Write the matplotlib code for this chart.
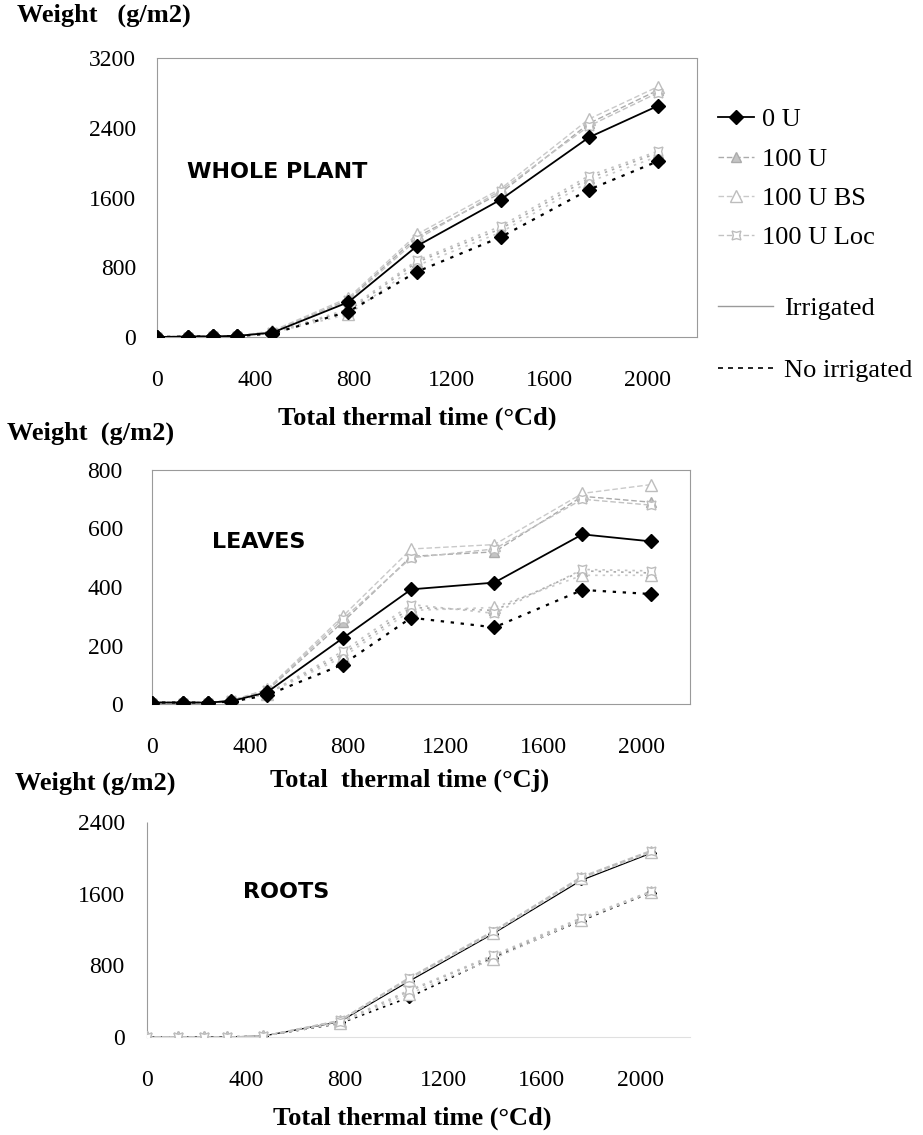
import matplotlib
matplotlib.use("Agg")
import matplotlib.pyplot as plt
from matplotlib.lines import Line2D

# ---------------- data ----------------
thermal_time = [0, 125, 230, 325, 470, 780, 1060, 1400, 1760, 2040]
treatments = ["0 U", "100 U", "100 U BS", "100 U Loc"]

# whole plant (g/m2)
whole_irr = {
    "0 U":       [0, 5, 8, 12, 50, 400, 1045, 1575, 2290, 2650],
    "100 U":     [0, 5, 8, 12, 60, 430, 1150, 1650, 2450, 2830],
    "100 U BS":  [0, 5, 8, 12, 70, 450, 1180, 1700, 2500, 2870],
    "100 U Loc": [0, 5, 8, 12, 60, 420, 1120, 1680, 2420, 2800],
}
whole_noirr = {
    "0 U":       [0, 5, 8, 10, 40, 290, 750, 1145, 1690, 2015],
    "100 U":     [0, 5, 8, 12, 50, 300, 860, 1240, 1820, 2110],
    "100 U BS":  [0, 5, 8, 12, 50, 260, 820, 1200, 1780, 2070],
    "100 U Loc": [0, 5, 8, 12, 50, 320, 880, 1270, 1850, 2130],
}
# leaves (g/m2)
leaves_irr = {
    "0 U":       [5, 5, 5, 10, 40, 225, 392, 415, 580, 556],
    "100 U":     [5, 5, 5, 12, 45, 280, 505, 520, 710, 690],
    "100 U BS":  [5, 5, 5, 12, 50, 300, 530, 545, 720, 750],
    "100 U Loc": [5, 5, 5, 12, 48, 290, 500, 530, 700, 680],
}
leaves_noirr = {
    "0 U":       [5, 5, 5, 8, 30, 135, 295, 262, 390, 376],
    "100 U":     [5, 5, 5, 10, 35, 170, 330, 320, 455, 448],
    "100 U BS":  [5, 5, 5, 10, 35, 160, 320, 330, 440, 440],
    "100 U Loc": [5, 5, 5, 10, 35, 180, 340, 310, 460, 455],
}
# roots (g/m2)
roots_irr = {
    "0 U":       [0, 0, 0, 0, 10, 170, 620, 1150, 1750, 2050],
    "100 U":     [0, 0, 0, 0, 10, 180, 650, 1170, 1780, 2070],
    "100 U BS":  [0, 0, 0, 0, 10, 175, 640, 1160, 1770, 2060],
    "100 U Loc": [0, 0, 0, 0, 10, 185, 660, 1180, 1790, 2080],
}
roots_noirr = {
    "0 U":       [0, 0, 0, 0, 10, 150, 440, 880, 1300, 1610],
    "100 U":     [0, 0, 0, 0, 10, 160, 510, 900, 1320, 1620],
    "100 U BS":  [0, 0, 0, 0, 10, 155, 480, 870, 1310, 1615],
    "100 U Loc": [0, 0, 0, 0, 10, 165, 520, 910, 1330, 1625],
}

panel_titles = ["WHOLE PLANT", "LEAVES", "ROOTS"]
y_ticks = [[0, 800, 1600, 2400, 3200], [0, 200, 400, 600, 800], [0, 800, 1600, 2400]]
x_ticks = [0, 400, 800, 1200, 1600, 2000]
x_labels = ["Total thermal time (°Cd)", "Total  thermal time (°Cj)", "Total thermal time (°Cd)"]
y_labels = ["Weight   (g/m2)", "Weight  (g/m2)", "Weight (g/m2)"]

# ---------------- style ----------------
styles = {
    "0 U":       dict(color="black", marker="D", ms=7, mfc="black", mec="black"),
    "100 U":     dict(color="#ababab", marker="^", ms=7, mfc="#c4c4c4", mec="#ababab"),
    "100 U BS":  dict(color="#c9c9c9", marker="^", ms=9, mfc="white", mec="#bdbdbd"),
    "100 U Loc": dict(color="#c2c2c2", marker=(4, 1, 45), ms=9, mfc="white", mec="#bdbdbd"),
}

serif = "Liberation Serif"
W, H = 923, 1135
fig = plt.figure(figsize=(W / 100, H / 100), dpi=100)

def frac(l, t, r, b):
    return [l / W, 1 - b / H, (r - l) / W, (b - t) / H]

axes_boxes = [frac(157, 58, 697, 337), frac(152, 470, 690, 704), frac(147, 822, 690, 1037)]
ylims = [3200, 800, 2400]
datasets = [(whole_irr, whole_noirr), (leaves_irr, leaves_noirr), (roots_irr, roots_noirr)]
ylab_pos = [(17, 15), (7, 433), (15, 783)]
xlab_pos = [(417, 418), (410, 780), (412, 1118)]
title_pos = [(187, 172), (212, 542), (243, 892)]
ytick_pad = [15, 21, 16]

legend_handles = []
for i in range(3):
    ax = fig.add_axes(axes_boxes[i])
    irr, noirr = datasets[i]
    for name in treatments:
        st = dict(styles[name])
        is_black = name == "0 U"
        z = 4 if is_black else 3
        lw_i = 1.3 if is_black else 1.0
        lw_n = 1.6 if is_black else 1.2
        if i == 2 and is_black:
            # in the roots panel the 0 U series is mostly hidden under the others
            st["ms"] = 5
            z = 2
            lw_i, lw_n = 0.9, 1.2
        ls_i = "-" if is_black else (0, (4, 2))
        l1, = ax.plot(thermal_time, irr[name], linestyle=ls_i, lw=lw_i, label=name,
                      **st, zorder=z)
        ax.plot(thermal_time, noirr[name], linestyle=(0, (1.5, 3)), lw=lw_n,
                **st, zorder=z)
        if i == 0:
            legend_handles.append(l1)
    ax.set_xlim(0, 2200)
    ax.set_ylim(0, ylims[i])
    ax.set_yticks(y_ticks[i])
    ax.set_xticks(x_ticks)
    ax.tick_params(length=0, labelsize=17, pad=ytick_pad[i], axis="y")
    ax.tick_params(length=0, labelsize=17, pad=24, axis="x")
    for lab in ax.get_xticklabels() + ax.get_yticklabels():
        lab.set_family(serif)
    for s in ax.spines.values():
        s.set_linestyle((0, (1, 1)))
        s.set_color("#9a9a9a")
        s.set_linewidth(0.8)
    if i == 2:
        ax.spines["top"].set_visible(False)
        ax.spines["right"].set_visible(False)
        ax.spines["bottom"].set_color("#e0e0e0")
    ax.text(title_pos[i][0] / W, 1 - title_pos[i][1] / H, panel_titles[i],
            transform=fig.transFigure, ha="left", va="center",
            fontsize=16, fontweight="bold", family="DejaVu Sans")
    fig.text(ylab_pos[i][0] / W, 1 - ylab_pos[i][1] / H, y_labels[i],
             ha="left", va="center", fontsize=19, fontweight="bold", family=serif)
    fig.text(xlab_pos[i][0] / W, 1 - xlab_pos[i][1] / H, x_labels[i],
             ha="center", va="center", fontsize=19, fontweight="bold", family=serif)

leg1 = fig.legend(handles=legend_handles, labels=treatments, loc="upper left",
                  bbox_to_anchor=(718 / W, 1 - 108 / H), frameon=False,
                  prop=dict(family=serif, size=19), handlelength=1.35,
                  handletextpad=0.3, labelspacing=0.6, borderpad=0, borderaxespad=0)

irr_handles = [Line2D([], [], color="#9a9a9a", lw=1, linestyle="-"),
               Line2D([], [], color="black", lw=1.2, linestyle=(0, (3, 3)))]
leg2 = fig.legend(handles=irr_handles, labels=["Irrigated", "No irrigated"], loc="upper left",
                  bbox_to_anchor=(718 / W, 1 - 297 / H), frameon=False,
                  prop=dict(family=serif, size=19), handlelength=2.1,
                  handletextpad=0.4, labelspacing=1.45, borderpad=0, borderaxespad=0)

fig.savefig("out.png", dpi=100)
